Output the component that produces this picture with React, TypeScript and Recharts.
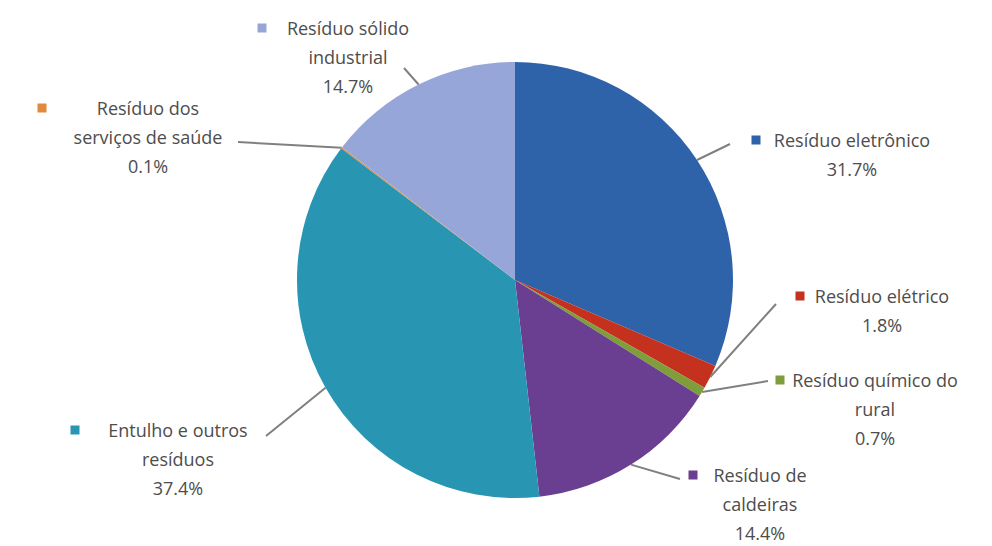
import { PieChart, Pie, Cell } from "recharts";

// categories, clockwise from 12 o'clock
const categories = [
  "Resíduo eletrônico",
  "Resíduo elétrico",
  "Resíduo químico do rural",
  "Resíduo de caldeiras",
  "Entulho e outros resíduos",
  "Resíduo dos serviços de saúde",
  "Resíduo sólido industrial",
];

const shares = [31.7, 1.8, 0.7, 14.4, 37.4, 0.1, 14.7];

const percentLabels = ["31.7%", "1.8%", "0.7%", "14.4%", "37.4%", "0.1%", "14.7%"];

// how each category name is broken across lines in the labels
const nameLines = [
  ["Resíduo eletrônico"],
  ["Resíduo elétrico"],
  ["Resíduo químico do", "rural"],
  ["Resíduo de", "caldeiras"],
  ["Entulho e outros", "resíduos"],
  ["Resíduo dos", "serviços de saúde"],
  ["Resíduo sólido", "industrial"],
];

const colors = ["#2e62a9", "#c4321f", "#7f9e3a", "#6a3f92", "#2896b3", "#e08a3c", "#97a6d8"];

// label placement (block centre x, first line y, marker x, leader end)
const labelLayout = [
  { bx: 852, by: 140, mx: 756, lx: 730, ly: 144 },
  { bx: 882, by: 296, mx: 800, lx: 776, ly: 304 },
  { bx: 875, by: 380, mx: 780, lx: 768, ly: 381 },
  { bx: 760, by: 475, mx: 693, lx: 680, ly: 479 },
  { bx: 178, by: 430, mx: 75, lx: 266, ly: 436 },
  { bx: 148, by: 108, mx: 42, lx: 238, ly: 142 },
  { bx: 348, by: 28, mx: 262, lx: 404, ly: 68 },
];

const data = categories.map((name, i) => ({ name, value: shares[i] }));

const RAD = Math.PI / 180;
const LINE_H = 29;

const renderLabel = (props: any) => {
  const { cx, cy, midAngle, outerRadius, index } = props;
  const lay = labelLayout[index];
  const sx = cx + outerRadius * Math.cos(-midAngle * RAD);
  const sy = cy + outerRadius * Math.sin(-midAngle * RAD);
  const lines = [...nameLines[index], percentLabels[index]];
  return (
    <g key={`lbl-${index}`}>
      <polyline
        points={`${sx},${sy} ${lay.lx},${lay.ly}`}
        stroke="#808080"
        strokeWidth={2}
        fill="none"
      />
      <rect x={lay.mx - 4.5} y={lay.by - 4.5} width={9} height={9} fill={colors[index]} />
      {lines.map((t, j) => (
        <text
          key={j}
          x={lay.bx}
          y={lay.by + j * LINE_H}
          textAnchor="middle"
          dominantBaseline="central"
          fontSize={18}
          fontFamily="'Open Sans', sans-serif"
          fill="#4d4d4d"
        >
          {t}
        </text>
      ))}
    </g>
  );
};

export default function App() {
  return (
    <div style={{ position: "absolute", left: 0, top: 0, width: 992, height: 546, background: "#fff" }}>
      <PieChart width={992} height={546} margin={{ top: 0, right: 0, bottom: 0, left: 0 }}>
        <Pie
          data={data}
          dataKey="value"
          nameKey="name"
          cx={515}
          cy={280}
          outerRadius={218}
          startAngle={90}
          endAngle={-270}
          stroke="none"
          label={renderLabel}
          labelLine={false}
          isAnimationActive={false}
        >
          {data.map((d, i) => (
            <Cell key={d.name} fill={colors[i]} />
          ))}
        </Pie>
      </PieChart>
    </div>
  );
}
